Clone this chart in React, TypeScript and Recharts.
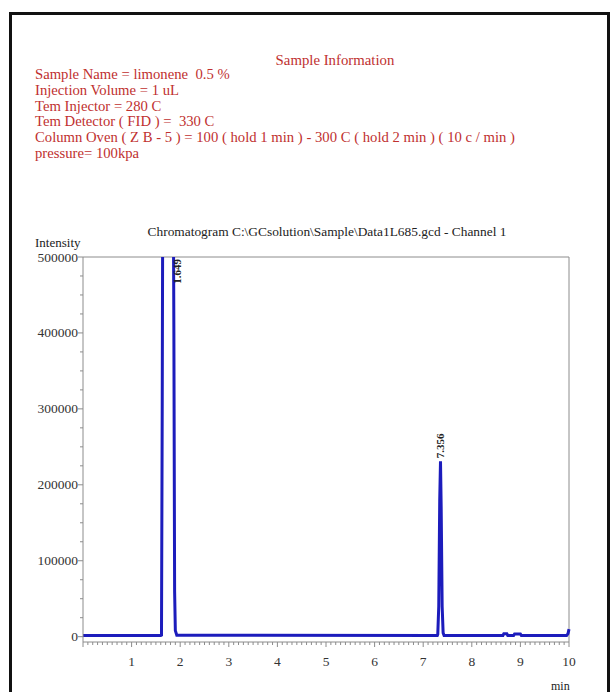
import React from "react";
import { LineChart, Line, XAxis, YAxis, ReferenceLine, ReferenceDot } from "recharts";

// sample header (red text block)
const infoTitle = "Sample Information";
const infoLines = [
  "Sample Name = limonene  0.5 %",
  "Injection Volume = 1 uL",
  "Tem Injector = 280 C",
  "Tem Detector ( FID ) =  330 C",
  "Column Oven ( Z B - 5 ) = 100 ( hold 1 min ) - 300 C ( hold 2 min ) ( 10 c / min )",
  "pressure= 100kpa",
];
const chartTitle = "Chromatogram C:\\GCsolution\\Sample\\Data1L685.gcd - Channel 1";

// trace (min, intensity)
const times = [
  0, 1.6, 1.615, 1.63, 1.64, 1.86, 1.87, 1.885, 1.9, 1.93,
  7.29, 7.3, 7.32, 7.34, 7.356, 7.37, 7.39, 7.41, 7.43,
  8.64, 8.66, 8.72, 8.74, 8.86, 8.88, 9.0, 9.02, 9.95, 9.98, 10,
];
const intensity = [
  1500, 1500, 2000, 300000, 560000, 560000, 400000, 60000, 8000, 2000,
  1500, 3000, 40000, 180000, 231000, 170000, 40000, 5000, 1500,
  1500, 4000, 4000, 1500, 1500, 3500, 3500, 1500, 1500, 4000, 10000,
];

const peakTimes = [1.649, 7.356];
const peakHeights = [500000, 231000];
const peakShift = [14, 0];

const yTicks = [
  0, 25000, 50000, 75000, 100000, 125000, 150000, 175000, 200000, 225000, 250000,
  275000, 300000, 325000, 350000, 375000, 400000, 425000, 450000, 475000, 500000,
];
const xTicks = Array.from({ length: 101 }, (_, i) => i / 10);

const data = times.map((t, i) => ({ t, v: intensity[i] }));

const AXIS = "#8c8c8c";
const SERIF = "'Liberation Serif', 'Times New Roman', serif";
const RED = "#c0302f";

const YTick = ({ x, y, payload }: any) => {
  const major = payload.value % 100000 === 0;
  return (
    <g>
      <line x1={x - (major ? 5 : 3)} x2={x} y1={y} y2={y} stroke={AXIS} />
      {major && (
        <text x={x - 5} y={y + 4.5} textAnchor="end" fontSize={13.5} fontFamily={SERIF} fill="#333">
          {payload.value}
        </text>
      )}
    </g>
  );
};

const XTick = ({ x, y, payload }: any) => {
  const v = payload.value;
  const major = Math.abs(v - Math.round(v)) < 1e-6;
  return (
    <g>
      <line x1={x} x2={x} y1={y} y2={y + (major ? 5 : 3)} stroke={AXIS} />
      {major && v > 0 && (
        <text x={x} y={y + 24} textAnchor="middle" fontSize={13.5} fontFamily={SERIF} fill="#333">
          {v}
        </text>
      )}
    </g>
  );
};

const PeakLabel = ({ viewBox, text, clipped, shift }: any) => {
  const x = viewBox.x + shift + 4;
  const y = clipped ? viewBox.y + 2 : viewBox.y - 3;
  return (
    <text
      x={x}
      y={y}
      transform={`rotate(-90 ${x} ${y})`}
      textAnchor={clipped ? "end" : "start"}
      fontSize={11}
      fontWeight="bold"
      fontFamily={SERIF}
      fill="#222"
    >
      {text}
    </text>
  );
};

export default function App() {
  return (
    <div style={{ position: "absolute", left: 0, top: 0, width: 611, height: 692, background: "#fff", overflow: "hidden" }}>
      <div
        style={{
          position: "absolute", left: 9, top: 12, width: 601, height: 720,
          border: "3px solid #111", boxSizing: "border-box",
        }}
      />
      <div style={{ position: "absolute", left: 0, top: 51, width: 670, textAlign: "center", color: RED, fontFamily: SERIF, fontSize: 14.8, lineHeight: "18px" }}>
        {infoTitle}
      </div>
      <div style={{ position: "absolute", left: 35, top: 67, color: RED, fontFamily: SERIF, fontSize: 14.7, lineHeight: "15.8px", whiteSpace: "pre" }}>
        {infoLines.map((l) => (
          <div key={l}>{l}</div>
        ))}
      </div>
      <div style={{ position: "absolute", left: 0, top: 224, width: 654, textAlign: "center", color: "#222", fontFamily: SERIF, fontSize: 13.4, lineHeight: "16px", whiteSpace: "pre" }}>
        {chartTitle}
      </div>
      <div style={{ position: "absolute", left: 35, top: 236, color: "#222", fontFamily: SERIF, fontSize: 13, lineHeight: "14px" }}>
        Intensity
      </div>
      <div style={{ position: "absolute", left: 551, top: 679, color: "#222", fontFamily: SERIF, fontSize: 12, lineHeight: "14px" }}>
        min
      </div>
      <div style={{ position: "absolute", left: 0, top: 0 }}>
        <LineChart width={611} height={692} data={data} margin={{ top: 257, right: 42, left: 0, bottom: 10 }}>
          <XAxis
            dataKey="t"
            type="number"
            domain={[0, 10]}
            ticks={xTicks}
            interval={0}
            tickSize={0}
            tickMargin={0}
            height={40}
            tick={<XTick />}
            axisLine={{ stroke: AXIS }}
          />
          <YAxis
            type="number"
            domain={[-7000, 500000]}
            allowDataOverflow
            ticks={yTicks}
            interval={0}
            tickSize={0}
            tickMargin={0}
            width={83}
            tick={<YTick />}
            axisLine={{ stroke: AXIS }}
          />
          <ReferenceLine y={500000} stroke={AXIS} />
          <ReferenceLine x={10} stroke={AXIS} />
          <Line
            type="linear"
            dataKey="v"
            stroke="#1c1cbc"
            strokeWidth={3}
            dot={false}
            isAnimationActive={false}
          />
          {peakTimes.map((t, i) => (
            <ReferenceDot
              key={t}
              x={t}
              y={peakHeights[i]}
              r={0}
              stroke="none"
              fill="none"
              label={<PeakLabel text={t.toFixed(3)} clipped={peakHeights[i] >= 500000} shift={peakShift[i]} />}
            />
          ))}
        </LineChart>
      </div>
    </div>
  );
}
